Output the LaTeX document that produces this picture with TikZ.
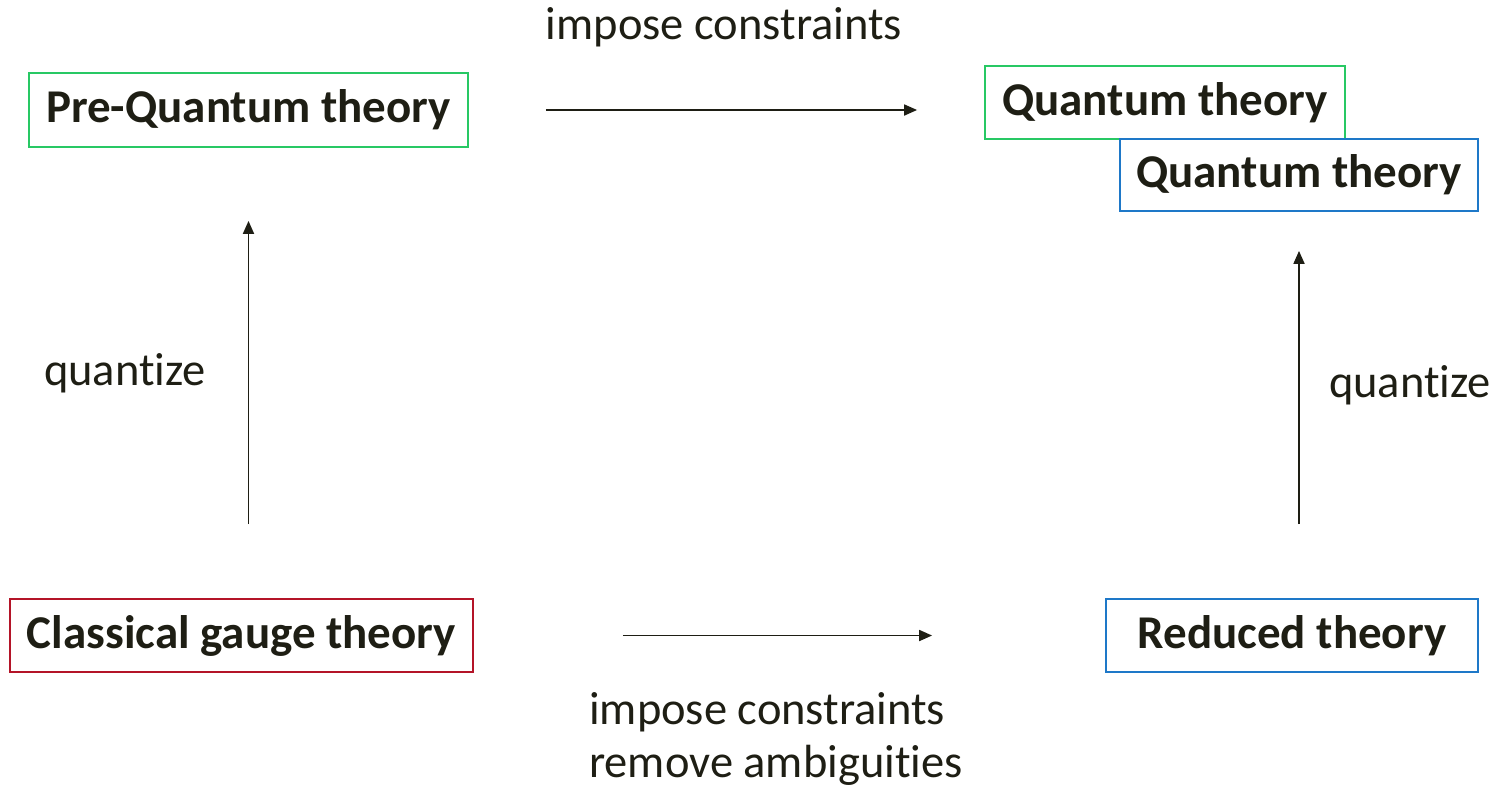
\documentclass[tikz,border=0pt]{standalone}
\usepackage{fontspec}
\setmainfont{Carlito}[Ligatures={NoCommon,NoContextual,NoRequired},RawFeature={-liga;-clig;-dlig;-calt}]
\usepackage{xcolor}
\usetikzlibrary{arrows.meta}

\definecolor{boxgreen}{RGB}{40,200,100}
\definecolor{boxblue}{RGB}{30,120,200}
\definecolor{boxred}{RGB}{180,20,40}
\definecolor{ink}{RGB}{30,30,20}

\begin{document}
\begin{tikzpicture}[x=1pt,y=-1pt,
	theory/.style={draw,line width=1.8pt,text=ink,inner sep=0pt,
		font=\fontsize{47}{56}\selectfont\bfseries},
	lbl/.style={text=ink,inner sep=0pt,font=\fontsize{46.5}{56}\selectfont},
	arr/.style={draw=ink,line width=1.8pt,-{Triangle[length=13pt,width=11pt]}}]
\useasboundingbox (0,0) rectangle (1498,788);

\node[theory,draw=boxgreen,minimum width=439,minimum height=74] (pre) at (248.5,110) {Pre-Quantum theory};
\node[theory,draw=boxgreen,minimum width=360,minimum height=73] (qgreen) at (1165,102.5) {Quantum theory};
\node[theory,draw=boxblue,minimum width=358,minimum height=72] (qblue) at (1299,175) {Quantum theory};
\node[theory,draw=boxred,minimum width=463,minimum height=73] (cgt) at (241.5,635.5) {Classical gauge theory};
\node[theory,draw=boxblue,minimum width=372,minimum height=73] (red) at (1292,635.5) {Reduced theory};

\node[lbl] (top) at (724,27) {impose constraints};
\node[lbl] (qleft) at (125,373) {quantize};
\node[lbl] (qright) at (1410,385) {quantize};
\node[lbl,anchor=west] (bot1) at (589,712) {impose constraints};
\node[lbl,anchor=west] (bot2) at (589,765) {remove ambiguities};

\draw[arr,shorten <=77,shorten >=67] (pre.east) -- (pre.east -| qgreen.west);
\draw[arr,shorten <=149,shorten >=173] (cgt.east) -- (cgt.east -| red.west);
\draw[arr,shorten <=74,shorten >=73] (pre.south |- cgt.north) -- (pre.south);
\draw[arr,shorten <=74,shorten >=39] (qblue.south |- red.north) -- (qblue.south);

\end{tikzpicture}
\end{document}
